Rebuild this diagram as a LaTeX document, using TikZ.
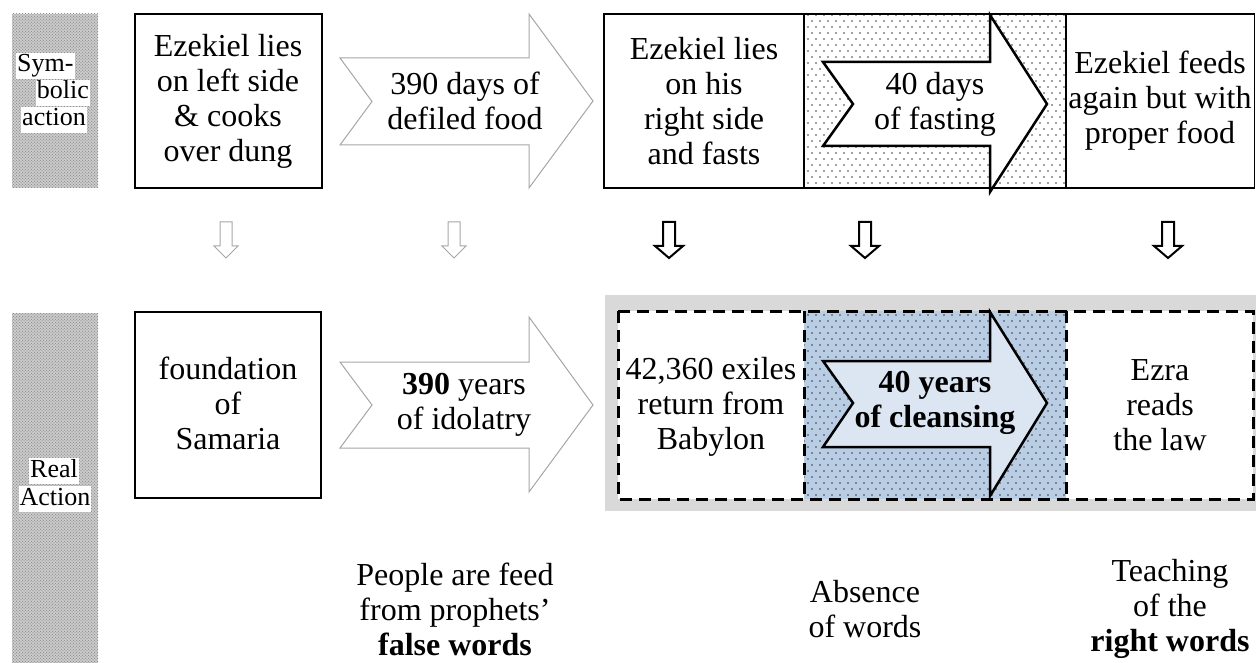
\documentclass[tikz,border=0pt]{standalone}
\usepackage{fontspec}
\setmainfont{Liberation Serif}
\usetikzlibrary{patterns}
\pgfdeclarepatternformonly{sparsedots}{\pgfqpoint{-1pt}{-1pt}}{\pgfqpoint{9pt}{13pt}}{\pgfqpoint{8pt}{12pt}}{%
  \pgfpathcircle{\pgfqpoint{0pt}{0pt}}{0.8pt}%
  \pgfpathcircle{\pgfqpoint{4pt}{6pt}}{0.8pt}%
  \pgfusepath{fill}}
\pgfdeclarepatternformonly{densedots}{\pgfqpoint{-1pt}{-1pt}}{\pgfqpoint{4pt}{4pt}}{\pgfqpoint{3pt}{3pt}}{%
  \pgfpathcircle{\pgfqpoint{0pt}{0pt}}{0.75pt}%
  \pgfpathcircle{\pgfqpoint{1.5pt}{1.5pt}}{0.75pt}%
  \pgfusepath{fill}}
\definecolor{bgray}{HTML}{D9D9D9}
\definecolor{agray}{HTML}{A6A6A6}
\definecolor{bluebg}{HTML}{B9CDE5}
\definecolor{bluearr}{HTML}{DCE6F2}
\tikzset{
  txt/.style={font=\fontsize{32}{35}\selectfont, align=center, inner sep=0pt},
  lbl/.style={font=\fontsize{26}{27}\selectfont, fill=white, inner sep=1pt, text height=18pt, text depth=6pt},
  sidecol/.style={preaction={fill=gray!35}, pattern=densedots, pattern color=gray!85},
  solidbox/.style={draw=black, line width=1.5pt},
  grayblock/.style={draw=agray, line width=1pt, fill=white, line join=miter},
  blackblock/.style={draw=black, line width=2.5pt, line join=miter},
  dashbox/.style={draw=black, line width=3pt, dash pattern=on 12pt off 7pt},
  dotfill/.style={pattern=sparsedots, pattern color=black!75},
  gdown/.style={draw=agray, line width=1pt, fill=white},
  bdown/.style={draw=black, line width=2pt, fill=white},
}
\begin{document}
\begin{tikzpicture}[x=1pt, y=-1pt]
\useasboundingbox (0,0) rectangle (1256,663);

% side columns
\path[sidecol] (12,14) rectangle (98,188);
\path[sidecol] (12,313) rectangle (98,663);
\node[lbl, anchor=west] (sym1) at (16,66) {Sym-};
\node[lbl, anchor=east] (sym2) at (90,93) {bolic};
\node[lbl] (sym3) at (54,120) {action};
\node[lbl] (real1) at (54,471) {Real};
\node[lbl] (real2) at (55,499) {Action};

% ---------- top row ----------
\draw[solidbox] (135,14) rectangle (322,188);
\node[txt] (t1) at (228,101) {Ezekiel lies\\on left side\\\& cooks\\over dung};

\draw[grayblock] (340,58) -- (529,58) -- (529,14) -- (593,101) -- (529,188) -- (529,145) -- (340,145) -- (372,101.5) -- cycle;
\node[txt] (t2) at (465,101) {390 days of\\defiled food};

\path[fill=white, dotfill] (804,14) rectangle (1066,188);
\draw[solidbox] (604,14) rectangle (1254.5,188);
\draw[solidbox] (804,14) -- (804,188);
\draw[solidbox] (1066,14) -- (1066,188);
\node[txt] (t3) at (704,101) {Ezekiel lies\\on his\\right side\\and fasts};
\draw[blackblock, fill=white] (823,62) -- (990,62) -- (990,15) -- (1047,104) -- (990,192) -- (990,146) -- (823,146) -- (853,104) -- cycle;
\node[txt] (t4) at (935,104) {40 days\\of fasting};
\node[txt] (t5) at (1160,101) {Ezekiel feeds\\again but with\\proper food};

% ---------- down arrows ----------
\foreach \c/\hw/\sty in {226/12/gdown, 454/12/gdown, 669/14/bdown, 865/14/bdown, 1168/14/bdown}{
  \draw[\sty] (\c-6,222) -- (\c+6,222) -- (\c+6,246) -- (\c+\hw,246) -- (\c,258) -- (\c-\hw,246) -- (\c-6,246) -- cycle;
}

% ---------- bottom row ----------
\draw[solidbox] (135,312) rectangle (321,498);
\node[txt] (b1) at (228,403) {foundation\\of\\Samaria};

\draw[grayblock] (340,362) -- (529,362) -- (529,317) -- (593,405) -- (529,492) -- (529,448) -- (340,448) -- (372,405) -- cycle;
\node[txt] (b2) at (464,405) {\textbf{390} years\\of idolatry};

\fill[bgray] (605,295) rectangle (1256,511);
\fill[white] (618,311) rectangle (1253,499);
\path[fill=bluebg] (804,311) rectangle (1066,499);
\path[dotfill] (804,311) rectangle (1066,499);
\draw[dashbox] (618,311) rectangle (1253,499);
\draw[dashbox] (804,311) -- (804,499);
\draw[dashbox] (1066,311) -- (1066,499);
\node[txt] (b3) at (711,407) {42,360 exiles\\return from\\Babylon};
\draw[blackblock, fill=bluearr] (823,361) -- (990,361) -- (990,312) -- (1047,403) -- (990,496) -- (990,447) -- (823,447) -- (853,403) -- cycle;
\node[txt, font=\fontsize{32}{35}\selectfont\bfseries] (b4) at (935,403) {40 years\\of cleansing};
\node[txt] (b5) at (1160,405) {Ezra\\reads\\the law};

% ---------- bottom notes ----------
\node[txt] (n1) at (455,609) {People are feed\\from prophets’\\\textbf{false words}};
\node[txt] (n2) at (865,609) {Absence\\of words};
\node[txt] (n3) at (1170,609) {Teaching\\of the\\\textbf{right words}};
\end{tikzpicture}
\end{document}
